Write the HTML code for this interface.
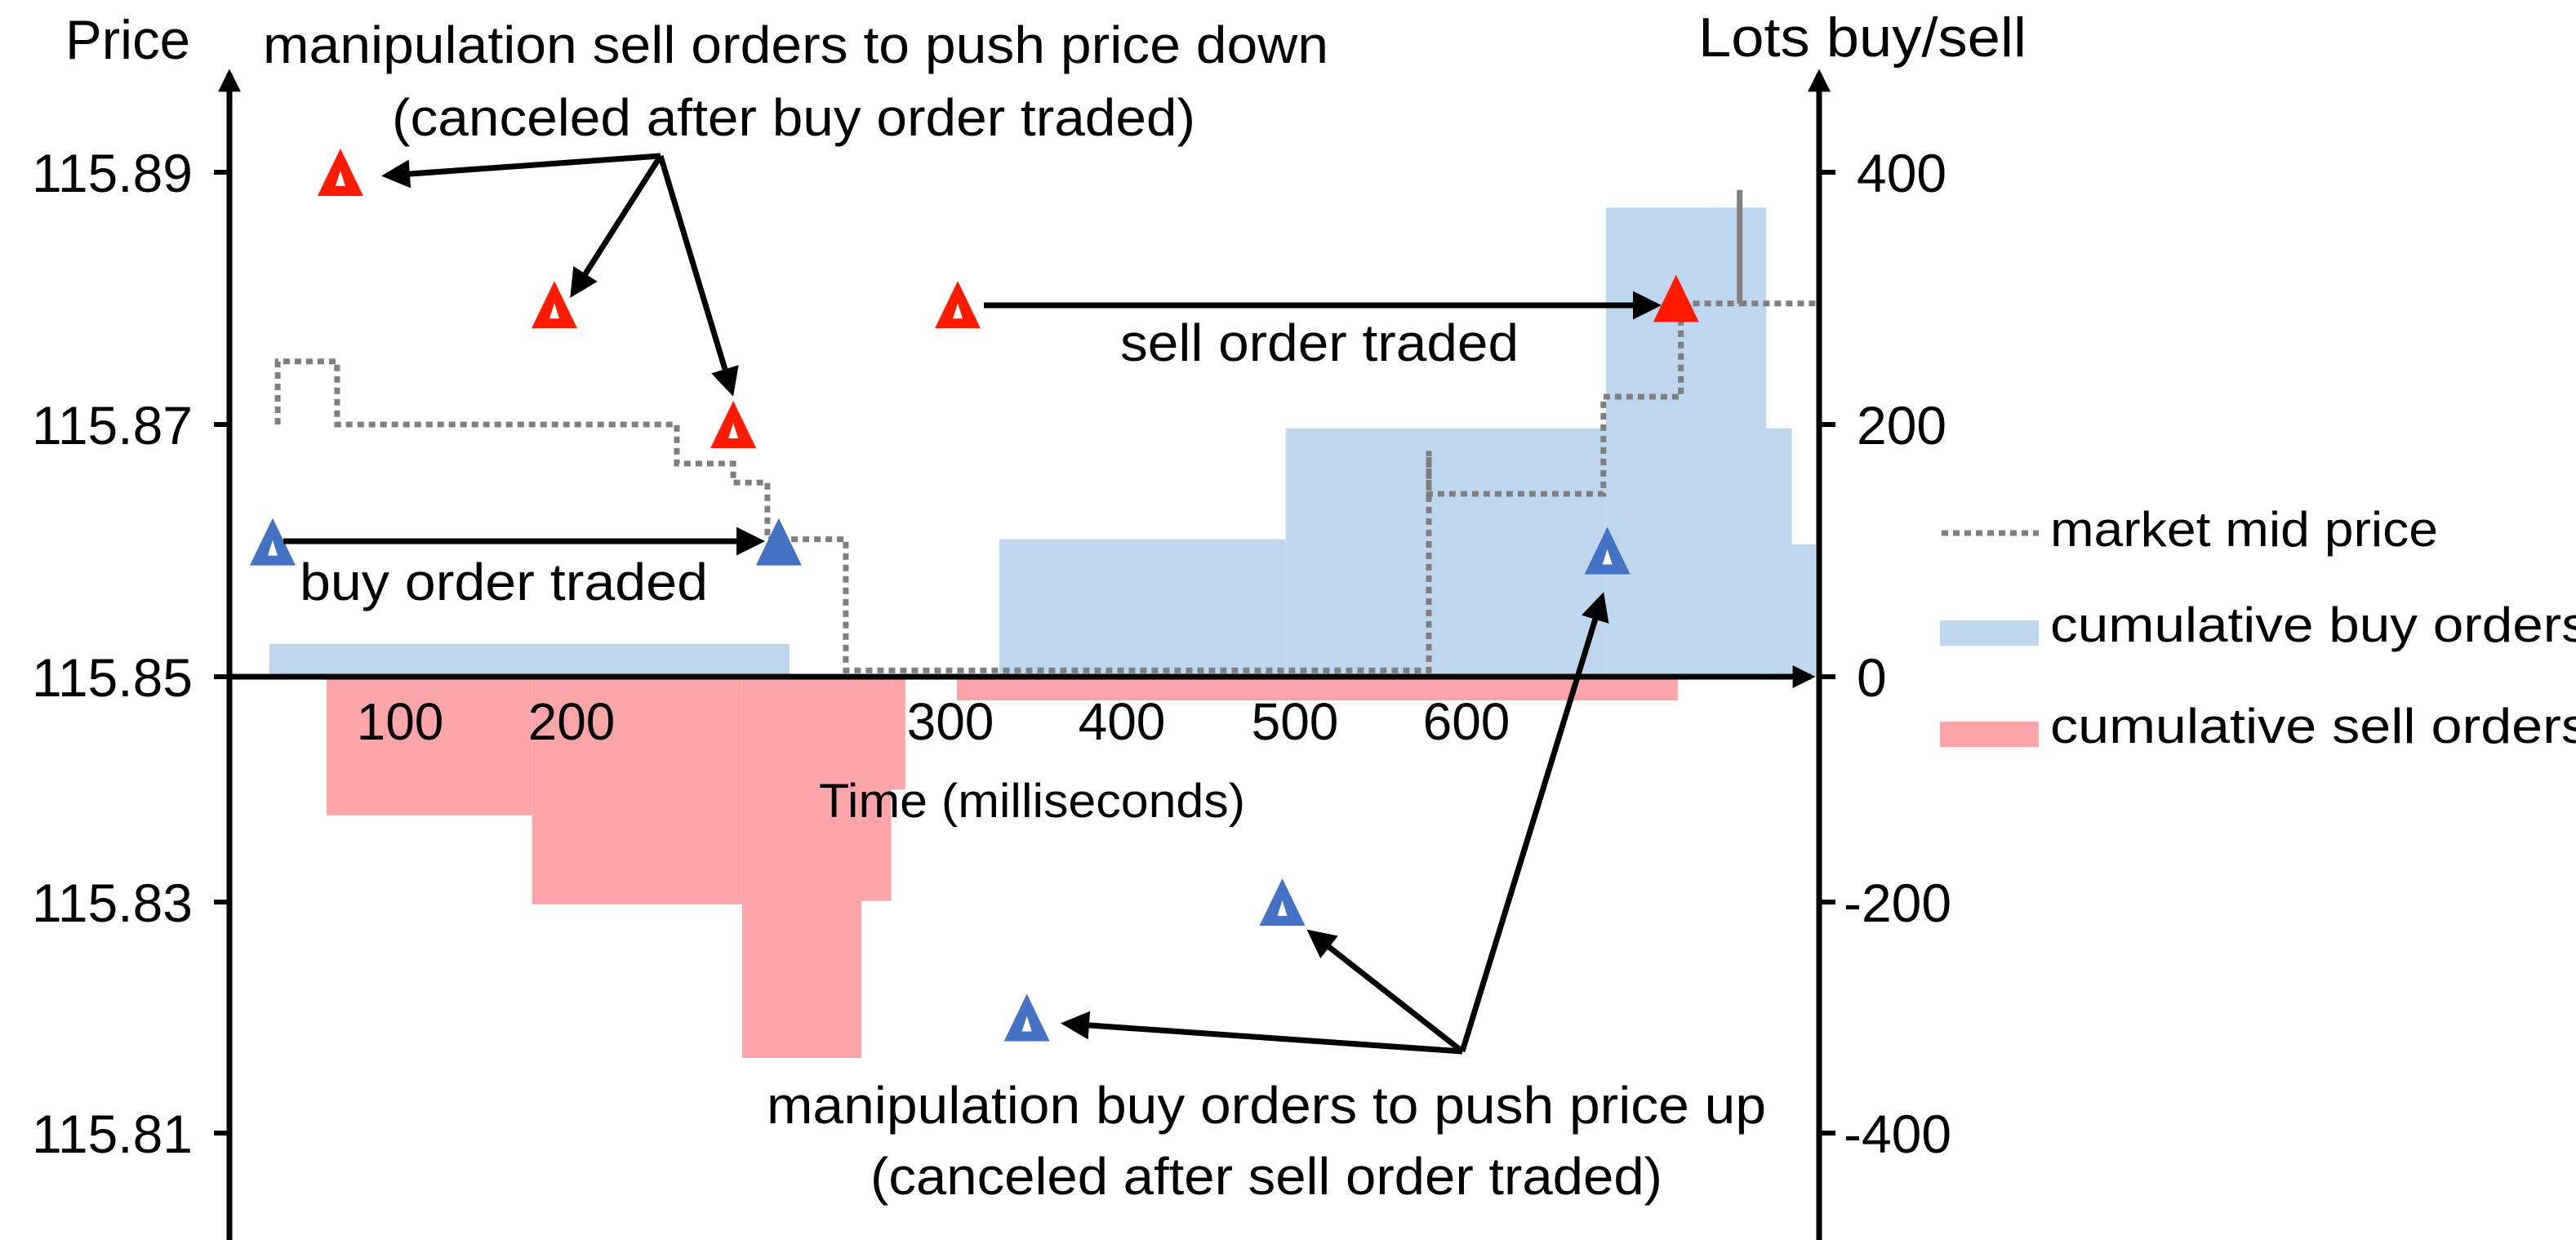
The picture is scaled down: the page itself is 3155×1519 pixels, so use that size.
<!DOCTYPE html>
<html><head><meta charset="utf-8"><style>
html,body{margin:0;padding:0;background:#fff;}
svg{display:block;font-family:"Liberation Sans",sans-serif;}
</style></head><body>
<svg id="chart" width="3155" height="1519" viewBox="0 0 3155 1519" xmlns="http://www.w3.org/2000/svg">
<defs>
<marker id="ah" viewBox="0 0 10 10" refX="8" refY="5" markerWidth="4" markerHeight="4" orient="auto-start-reverse" markerUnits="strokeWidth"><path d="M0,0 L10,5 L0,10 z" fill="#000"/></marker>
<marker id="ah2" viewBox="0 0 10 10" refX="8" refY="5" markerWidth="5" markerHeight="5" orient="auto" markerUnits="strokeWidth"><path d="M0,0 L10,5 L0,10 z" fill="#000"/></marker>
</defs>
<g id="bars"></g>
<g id="midline"></g>
<g id="axes"></g>
<g id="marks"></g>
<g id="annot"></g>
<g id="texts"></g>
</svg>
<script>
// ---- data ----
const xTicks = [100, 200, 300, 400, 500, 600];
const priceTicks = [115.89, 115.87, 115.85, 115.83, 115.81];
const lotTicks = [400, 200, 0, -200, -400];
const buyStart = [23.8, 328.5, 494.6, 681.2, 774.3, 789.4];
const buyEnd = [257.5, 494.6, 681.2, 774.3, 789.4, 803.2];
const buyLots = [26, 109, 197, 372, 197, 105];
const sellStart = [57.1, 177, 245, 276.5, 284.4, 303.8];
const sellEnd = [177, 245, 276.5, 284.4, 288.1, 723];
const sellLots = [-123, -202, -335, -199, -100, -21];
const midT = [28.6, 28.6, 63.3, 63.3, 227.8, 227.8, 242.7, 242.7, 251.7, 251.7, 272.4, 272.4, 578.1, 578.1, 578.1, 679.7, 679.7, 724.8, 724.8, 759, 759, 759, 805];
const midP = [115.87, 115.875, 115.875, 115.87, 115.87, 115.8669, 115.8669, 115.8654, 115.8654, 115.8609, 115.8609, 115.8505, 115.8505, 115.8679, 115.8645, 115.8645, 115.8722, 115.8722, 115.8796, 115.8796, 115.8886, 115.8796, 115.8796];
const sellOrderT = [65.2, 190, 242.7, 304.3, 722];
const sellOrderP = [115.89, 115.8795, 115.87, 115.8795, 115.88];
const sellOrderFilled = [0, 0, 0, 0, 1];
const buyOrderT = [25.7, 254.7, 682, 492.7, 344.6];
const buyOrderP = [115.8607, 115.8607, 115.86, 115.83, 115.82];
const buyOrderFilled = [0, 1, 0, 0, 0];

// ---- scales (piecewise, as in original chart) ----
const xKD = [0,100,200,300,400,500,600,800], xKR = [280,490,700,1164,1374,1586,1796,2217];
const lKD = [-400,-200,0,200,400], lKR = [1388,1105,829,520,211];
const pKD = [115.81,115.83,115.85,115.87,115.89], pKR = [1388,1105,829,520,211];
function interp(d, r, v){
  let i = 0;
  while (i < d.length-2 && v > d[i+1]) i++;
  return r[i] + (v-d[i])/(d[i+1]-d[i])*(r[i+1]-r[i]);
}
const X = t => interp(xKD, xKR, t);
const YL = v => interp(lKD, lKR, v);
const YP = v => interp(pKD, pKR, v);
const NS = "http://www.w3.org/2000/svg";
function mk(tag, attrs, parent){
  const e = document.createElementNS(NS, tag);
  for (const k in attrs) e.setAttribute(k, attrs[k]);
  parent.appendChild(e); return e;
}
const gB = document.getElementById('bars'), gM = document.getElementById('midline'),
      gA = document.getElementById('axes'), gK = document.getElementById('marks'),
      gN = document.getElementById('annot'), gT = document.getElementById('texts');

// bars
buyLots.forEach((v,i)=>{
  const x0 = X(buyStart[i]), x1 = X(buyEnd[i]), y = YL(v), y0 = YL(0);
  const r = mk('rect', {x:x0, y:Math.min(y,y0), width:x1-x0, height:Math.abs(y0-y), fill:'#BFD7EE'}, gB);
  
  
});
sellLots.forEach((v,i)=>{
  const x0 = X(sellStart[i]), x1 = X(sellEnd[i]), y = YL(v), y0 = YL(0);
  const r = mk('rect', {x:x0, y:y0, width:x1-x0, height:y-y0, fill:'#FCA5A8'}, gB);
  
  
});
// mid price
let d = '';
midT.forEach((t,i)=>{ d += (i?'L':'M') + X(t).toFixed(1) + ',' + YP(midP[i]).toFixed(1); });
const mp = mk('path', {d:d, fill:'none', stroke:'#7F7F7F', 'stroke-width':7, 'stroke-dasharray':'8 6'}, gM);



// axes
const ax = [
  ['y-axis-left', {x1:281,y1:1519,x2:281,y2:90}],
  ['y-axis-right', {x1:2228,y1:1519,x2:2228,y2:90}],
  ['x-axis', {x1:281,y1:829,x2:2218,y2:829}]
];
ax.forEach(a=>{
  const l = mk('line', Object.assign({stroke:'#000','stroke-width':7,'marker-end':'url(#ah)'}, a[1]), gA);
  
  
});
priceTicks.forEach(p=>{
  const y = YP(p);
  const l = mk('line', {x1:262,y1:y,x2:281,y2:y,stroke:'#000','stroke-width':6}, gA);
  
  
  const t = mk('text', {x:236,y:y+24,'text-anchor':'end','font-size':66,fill:'#000'}, gT);
  t.textContent = p.toFixed(2);
  
  
});
lotTicks.forEach(v=>{
  const y = YL(v);
  const l = mk('line', {x1:2228,y1:y,x2:2248,y2:y,stroke:'#000','stroke-width':6}, gA);
  
  
  const t = mk('text', {x:v<0?2258:2274,y:y+24,'font-size':66,fill:'#000'}, gT);
  t.textContent = String(v);
  
  
});
xTicks.forEach(v=>{
  const t = mk('text', {x:X(v),y:906,'text-anchor':'middle','font-size':64,fill:'#000'}, gT);
  t.textContent = String(v);
  
  
});

// triangles
function tri(cx, cy, color, filled){
  const w = 56, h = 58;
  const o = mk('path', {d:`M${cx},${cy-h/2} L${cx+w/2},${cy+h/2} L${cx-w/2},${cy+h/2} Z`, fill:color}, gK);
  if (!filled) mk('path', {d:`M${cx},${cy-2} L${cx+6},${cy+17} L${cx-6},${cy+17} Z`, fill:'#fff'}, gK);
  return o;
}
sellOrderT.forEach((t,i)=>{
  const o = tri(X(t), YP(sellOrderP[i]), '#FF1A00', sellOrderFilled[i]);
  
  
});
buyOrderT.forEach((t,i)=>{
  const o = tri(X(t), YP(buyOrderP[i]), '#4472C4', buyOrderFilled[i]);
  
  
});

// annotation arrows
const arrows = [
  ['arrow-sell-1',809,191,474,215],['arrow-sell-2',809,191,702,359],['arrow-sell-3',809,191,896,479],
  ['arrow-buy-traded',347,663,930,663],['arrow-sell-traded',1205,374,2028,374],
  ['arrow-buy-1',1791,1288,1306,1254],['arrow-buy-2',1791,1288,1606,1143],['arrow-buy-3',1791,1288,1962,732]
];
arrows.forEach(a=>{
  const l = mk('line', {x1:a[1],y1:a[2],x2:a[3],y2:a[4],stroke:'#000','stroke-width':7,'marker-end':'url(#ah2)'}, gN);
  
  
});

// texts
const texts = [
  ['price-axis-title','Price',80,72,153,68],
  ['lots-axis-title','Lots buy/sell',2080,69,402,68],
  ['sell-manipulation-label','manipulation sell orders to push price down',322,77,1305,64],
  ['sell-manipulation-note','(canceled after buy order traded)',480,166,984,64],
  ['buy-traded-label','buy order traded',367,735,500,64],
  ['sell-traded-label','sell order traded',1372,442,488,64],
  ['x-axis-title','Time (milliseconds)',1003,1001,522,58],
  ['buy-manipulation-label','manipulation buy orders to push price up',939,1376,1224,64],
  ['buy-manipulation-note','(canceled after sell order traded)',1066,1463,970,64],
  ['legend-mid-label','market mid price',2511,669,475,60],
  ['legend-buy-label','cumulative buy orders',2511,786,660,60],
  ['legend-sell-label','cumulative sell orders',2511,910,660,60]
];
texts.forEach(s=>{
  const t = mk('text', {x:s[2],y:s[3],'font-size':s[5],fill:'#000',textLength:s[4],lengthAdjust:'spacingAndGlyphs'}, gT);
  t.textContent = s[1];
  
  
});
// legend swatches
const lm = mk('line', {x1:2378,y1:653,x2:2497,y2:653,stroke:'#7F7F7F','stroke-width':7,'stroke-dasharray':'8 6'}, gT);


const lb = mk('rect', {x:2376,y:760,width:121,height:31,fill:'#BFD7EE'}, gT);


const ls = mk('rect', {x:2376,y:884,width:121,height:31,fill:'#FCA5A8'}, gT);


</script>
</body></html>
